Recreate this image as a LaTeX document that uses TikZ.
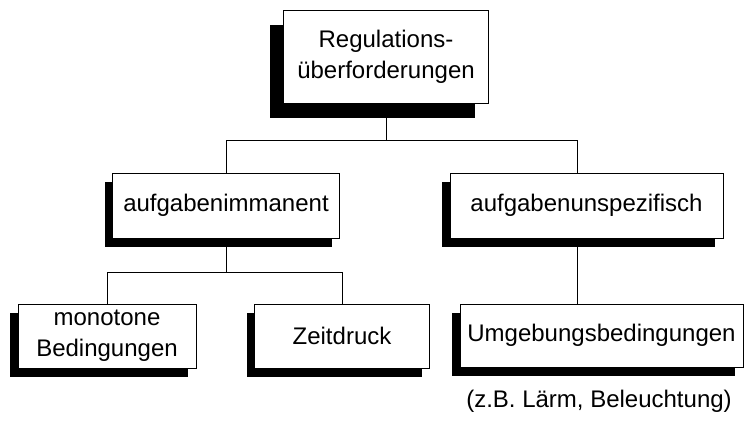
\documentclass[tikz,border=0pt]{standalone}
\usepackage{fontspec}
\setmainfont{Liberation Sans}
\usetikzlibrary{shadows}
\tikzset{
  catbox/.style={rectangle, draw, fill=white, line width=1pt, inner sep=0pt, font=\fontsize{24}{31}\selectfont, align=center},
  bigshade/.style={drop shadow={shadow xshift=-14pt, shadow yshift=-15pt, fill=black, opacity=1}},
  smallshade/.style={drop shadow={shadow xshift=-8pt, shadow yshift=-9pt, fill=black, opacity=1}},
  link/.style={line width=0.8pt}
}
\begin{document}
\begin{tikzpicture}[x=1pt, y=-1pt]
  \useasboundingbox (0,0) rectangle (744,421);

  % junction points of the bars
  \coordinate (bartop) at (577,140);
  \coordinate (barleft) at (342,272);

  \node[catbox, bigshade, minimum width=205pt, minimum height=93pt] (reg) at (386,56.5) {Regulations-\\überforderungen};
  \node[catbox, smallshade, minimum width=227pt, minimum height=65pt] (imm) at (226,205.5) {aufgabenimmanent};
  \node[catbox, smallshade, minimum width=273pt, minimum height=65pt] (spez) at (586.5,205.5) {aufgabenunspezifisch};
  \node[catbox, smallshade, minimum width=178pt, minimum height=64pt] (mono) at (107,336) {monotone\\Bedingungen};
  \node[catbox, smallshade, minimum width=175pt, minimum height=64pt] (zeit) at (342,336) {Zeitdruck};
  \node[catbox, smallshade, minimum width=283pt, minimum height=63pt] (umg) at (601.5,335.5) {Umgebungsbedingungen};
  \node[font=\fontsize{24}{31}\selectfont] (bsp) at (599,401) {(z.B. Lärm, Beleuchtung)};

  \draw[link] (reg.south) -- (reg.south |- bartop);
  \draw[link] (imm.north) |- (bartop) -- (spez.north -| bartop);
  \draw[link] (spez.south -| bartop) -- (umg.north -| bartop);
  \draw[link] (imm.south) -- (imm.south |- barleft);
  \draw[link] (mono.north) |- (barleft) -- (zeit.north);
\end{tikzpicture}
\end{document}
